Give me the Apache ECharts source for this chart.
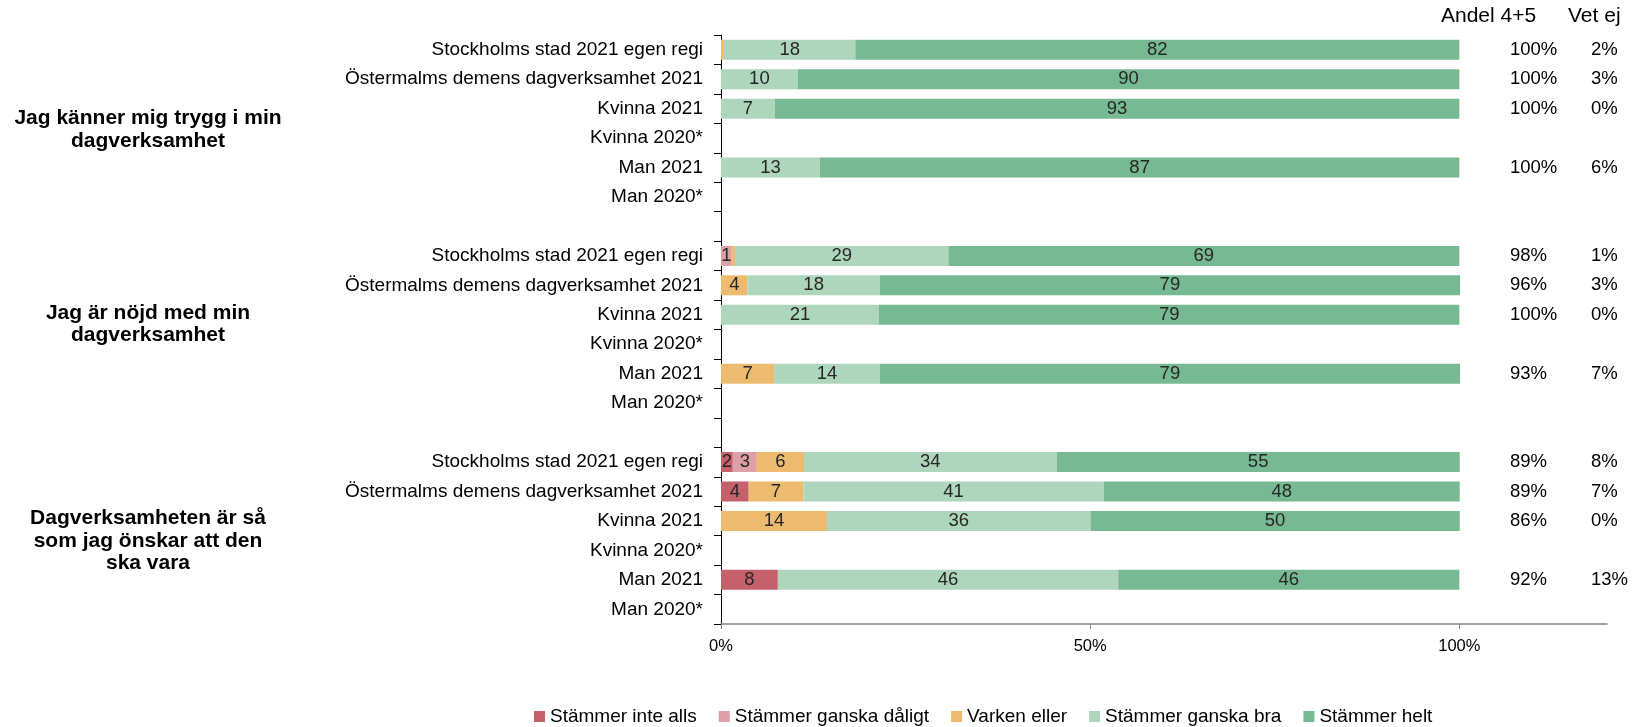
<!DOCTYPE html>
<html><head><meta charset="utf-8">
<script src="https://cdn.jsdelivr.net/npm/echarts@6/dist/echarts.min.js"></script>
<style>html,body{margin:0;padding:0;background:#fff}#c{width:1635px;height:727px}</style>
</head><body><div id="c"></div>
<script>
// ---- data ----
const rowLabels = ['Stockholms stad 2021 egen regi', 'Östermalms demens dagverksamhet 2021', 'Kvinna 2021', 'Kvinna 2020*', 'Man 2021', 'Man 2020*'];
const groupLabels = ['Jag känner mig trygg i min\ndagverksamhet', 'Jag är nöjd med min\ndagverksamhet', 'Dagverksamheten är så\nsom jag önskar att den\nska vara'];
const seriesNames = ['Stämmer inte alls', 'Stämmer ganska dåligt', 'Varken eller', 'Stämmer ganska bra', 'Stämmer helt'];
const seriesColors = ['#C4616A', '#DCA1A8', '#EDBB6F', '#AED6BD', '#76B992'];
// rows per group: Stockholms, Östermalms, Kvinna 2021, Kvinna 2020*, Man 2021, Man 2020*
const stammerInteAlls = [
  [null, null, null, null, null, null],
  [null, null, null, null, null, null],
  [1.6, 3.75, null, null, 7.7, null]
];
const stammerGanskaDaligt = [
  [null, null, null, null, null, null],
  [1.45, null, null, null, null, null],
  [3.25, null, null, null, null, null]
];
const varkenEller = [
  [0.4, null, null, null, null, null],
  [0.45, 3.6, null, null, 7.2, null],
  [6.4, 7.4, 14.35, null, null, null]
];
const stammerGanskaBra = [
  [17.8, 10.4, 7.3, null, 13.4, null],
  [28.9, 17.9, 21.4, null, 14.3, null],
  [34.2, 40.7, 35.7, null, 46.1, null]
];
const stammerHelt = [
  [81.8, 89.6, 92.7, null, 86.6, null],
  [69.2, 78.6, 78.6, null, 78.6, null],
  [54.6, 48.2, 50, null, 46.2, null]
];
const andel45 = [
  [100, 100, 100, null, 100, null],
  [98, 96, 100, null, 93, null],
  [89, 89, 86, null, 92, null]
];
const vetEj = [
  [2, 3, 0, null, 6, null],
  [1, 3, 0, null, 7, null],
  [8, 7, 0, null, 13, null]
];
const xTicks = [0, 50, 100];
const headers = ['Andel 4+5', 'Vet ej'];

// ---- build ----
function flat(groups, gapVal) {
  const out = [];
  groups.forEach((g, i) => { out.push(...g); if (i < groups.length - 1) out.push(gapVal); });
  return out;
}
const categories = flat([rowLabels, rowLabels, rowLabels], '');
const seriesData = [stammerInteAlls, stammerGanskaDaligt, varkenEller, stammerGanskaBra, stammerHelt].map(s => flat(s, null));
const andelFlat = flat(andel45, null);
const vetFlat = flat(vetEj, null);
const rightLabels = andelFlat.map((a, i) => a == null ? '' : '{a|' + a + '%}{b|' + vetFlat[i] + '%}');

const FONT = 'Liberation Sans, Arial, sans-serif';
const chart = echarts.init(document.getElementById('c'), null, {renderer: 'canvas'});
const option = {
  animation: false,
  textStyle: {fontFamily: FONT},
  grid: {left: 721, right: 28, top: 35, bottom: 103, containLabel: false},
  legend: {
    data: seriesNames, left: 534, top: 707, icon: 'rect', itemWidth: 11, itemHeight: 11, itemGap: 22,
    padding: 0, textStyle: {fontSize: 19, color: '#000', fontFamily: FONT}, selectedMode: false
  },
  xAxis: {
    type: 'value', min: 0, max: 120, interval: 50,
    axisLine: {show: true, lineStyle: {color: '#868686', width: 1.5}},
    axisTick: {show: true, length: 5, lineStyle: {color: '#868686'}, customValues: xTicks},
    axisLabel: {customValues: xTicks, formatter: v => v + '%', fontSize: 16.5, color: '#000', margin: 14, fontFamily: FONT},
    splitLine: {show: false}
  },
  yAxis: [{
    type: 'category', data: categories, inverse: true,
    axisLine: {show: true, lineStyle: {color: '#000', width: 1}},
    axisTick: {show: true, length: 7, interval: 0, lineStyle: {color: '#000'}},
    axisLabel: {interval: 0, fontSize: 19, color: '#000', margin: 18, fontFamily: FONT}
  }, {
    type: 'category', data: rightLabels, inverse: true, position: 'right', offset: -97,
    axisLine: {show: false}, axisTick: {show: false},
    axisLabel: {
      interval: 0, margin: 0, align: 'left', fontFamily: FONT,
      rich: {
        a: {width: 81, fontSize: 18.5, color: '#000', align: 'left', fontFamily: FONT},
        b: {fontSize: 18.5, color: '#000', align: 'left', fontFamily: FONT}
      }
    }
  }],
  series: seriesNames.map((name, k) => ({
    name, type: 'bar', stack: 'total', yAxisIndex: 0, data: seriesData[k], barWidth: 20,
    itemStyle: {color: seriesColors[k]},
    emphasis: {disabled: true},
    label: {
      show: true, position: 'inside', fontSize: 18.5, color: '#262626', fontFamily: FONT,
      formatter: p => { if (p.value == null) return ''; const v = Math.round(p.value); return v === 0 ? '' : String(v); }
    }
  })),
  graphic: [
    {type: 'text', left: 1441, top: 6, style: {text: headers[0], fontSize: 21, fill: '#000', fontFamily: FONT}},
    {type: 'text', left: 1568, top: 6, style: {text: headers[1], fontSize: 21, fill: '#000', fontFamily: FONT}},
    ...groupLabels.map((t, i) => ({
      type: 'text', x: 148, y: [129.5, 324, 541][i],
      style: {text: t, fontSize: 21, fontWeight: 'bold', fill: '#000', fontFamily: FONT,
        align: 'center', verticalAlign: 'middle', textAlign: 'center', textVerticalAlign: 'middle', lineHeight: 22.5}
    }))
  ]
};
chart.setOption(option);
</script>
</body></html>
